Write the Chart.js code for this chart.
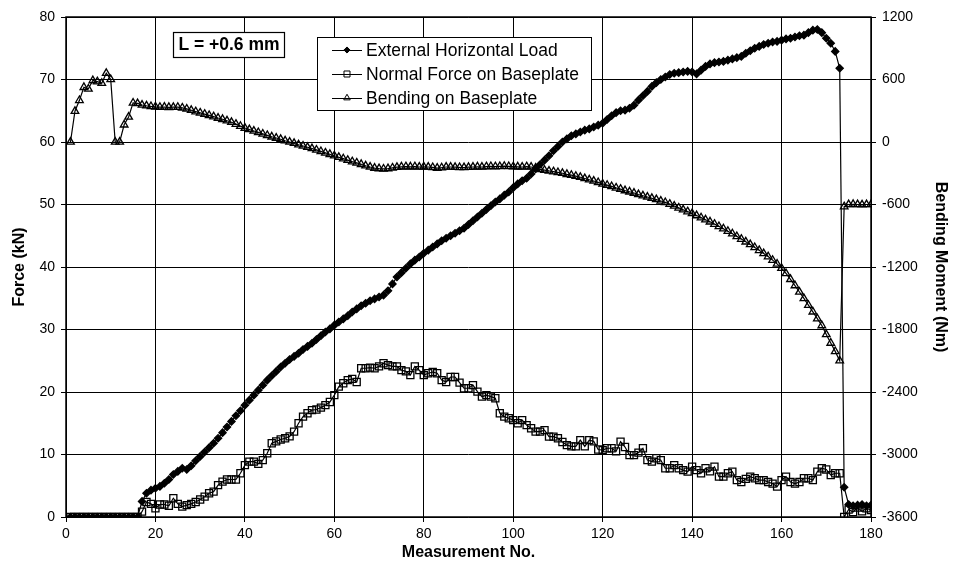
<!DOCTYPE html>
<html>
<head>
<meta charset="utf-8">
<script src="https://cdn.jsdelivr.net/npm/chart.js@4.4.0/dist/chart.umd.min.js"></script>
<style>
html,body{margin:0;background:#fff}
#wrap{width:954px;height:578px;position:relative}
</style>
</head>
<body>
<div id="wrap"><canvas id="c" width="954" height="578"></canvas></div>
<script>
// measurement numbers 1..180
const measNo = Array.from({length:180},(_,i)=>i+1);

// External Horizontal Load (kN)
const extLoad = [
  0,0,0,0,0,0,0,0,0,0,0,0,0,0,0,0,
  2.5,3.8,4.3,4.6,4.9,5.4,6.0,6.8,7.3,7.8,7.6,8.2,9.0,9.7,
  10.4,11.1,11.8,12.6,13.5,14.4,15.3,16.2,17.0,17.9,
  18.7,19.5,20.3,21.1,21.9,22.6,23.3,24.0,24.6,25.2,
  25.7,26.2,26.8,27.3,27.8,28.4,29.0,29.6,30.1,30.7,
  31.2,31.7,32.2,32.8,33.3,33.8,34.2,34.6,34.9,35.2,
  35.5,36.2,37.3,38.4,39.1,39.8,40.5,41.1,41.6,42.2,
  42.7,43.2,43.7,44.2,44.6,45.0,45.4,45.8,46.2,46.8,
  47.4,48.0,48.6,49.2,49.8,50.4,50.9,51.5,52.0,52.7,
  53.3,53.8,54.2,54.9,55.7,56.4,57.1,57.8,58.6,59.3,
  60.0,60.5,61.0,61.3,61.6,61.9,62.1,62.4,62.7,63.0,
  63.6,64.2,64.7,65.0,65.1,65.4,65.9,66.7,67.4,68.1,
  68.9,69.5,70.0,70.4,70.8,71.0,71.1,71.2,71.3,71.2,
  70.9,71.5,72.1,72.5,72.7,72.8,72.9,73.1,73.3,73.5,
  73.7,74.2,74.6,75.0,75.3,75.6,75.8,76.0,76.1,76.3,
  76.5,76.6,76.8,77.0,77.1,77.5,77.9,78.0,77.5,76.6,
  75.8,74.5,71.8,4.75,2.0,1.8,1.9,2.0,1.8,1.9
];

// Normal Force on Baseplate (kN)
const normalForce = [
  0,0,0,0,0,0,0,0,0,0,0,0,0,0,0,0,
  0.85,2.4,2.1,1.4,2.0,2.0,1.8,3.0,2.1,1.65,1.9,2.1,2.4,2.8,
  3.25,3.8,4.05,5.1,5.65,6.0,6.0,6.0,7.0,8.3,
  8.85,8.85,8.5,9.1,10.2,11.8,12.1,12.4,12.6,12.9,
  13.65,15.0,16.05,16.6,17.1,17.2,17.5,17.9,18.4,19.5,
  20.85,21.4,21.9,22.1,21.6,23.8,23.8,23.9,23.8,24.1,
  24.6,24.3,24.1,24.1,23.5,23.3,22.7,24.1,23.5,22.7,
  23.0,23.2,23.0,21.9,21.6,22.4,22.4,21.5,20.6,20.6,
  21.1,20.05,19.25,19.5,19.25,19.0,16.6,16.05,15.8,15.5,
  15.0,15.5,14.7,14.2,13.65,13.65,13.9,12.85,12.85,12.6,
  12.0,11.5,11.3,11.3,12.3,11.3,12.3,12.1,10.8,10.7,
  11.0,11.0,10.5,12.05,11.2,9.9,9.9,10.3,11.0,9.1,
  8.85,9.4,9.1,7.8,7.8,8.3,7.8,7.5,7.25,8.05,
  7.5,7.0,7.8,7.3,8.05,6.45,6.45,7.0,7.25,5.9,
  5.6,6.1,6.45,6.2,5.9,5.9,5.6,5.35,4.85,5.9,
  6.45,5.6,5.35,5.6,6.2,6.2,5.9,7.25,7.8,7.6,
  6.7,7.0,7.0,0.0,1.2,0.8,1.5,0.9,1.4,1.1
];

// Bending on Baseplate (Nm)
const bending = [
  0,295,400,525,510,590,580,565,660,600,
  0,0,165,240,375,370,355,348,342,338,
  335,336,333,334,335,328,318,305,292,280,
  268,256,244,230,218,204,190,172,152,134,
  120,106,92,78,64,50,38,26,12,0,
  -12,-26,-38,-50,-62,-76,-90,-104,-118,-132,
  -146,-160,-174,-188,-200,-214,-228,-240,-250,-255,
  -258,-255,-248,-242,-238,-236,-238,-236,-240,-238,
  -240,-244,-250,-246,-240,-240,-242,-244,-245,-242,
  -240,-238,-240,-236,-234,-236,-234,-232,-234,-236,
  -238,-240,-236,-240,-250,-262,-270,-278,-284,-292,
  -300,-310,-318,-328,-338,-350,-362,-374,-388,-402,
  -414,-426,-440,-452,-466,-478,-490,-504,-516,-528,
  -540,-552,-566,-580,-596,-614,-632,-650,-668,-686,
  -706,-726,-746,-766,-788,-810,-832,-856,-880,-906,
  -932,-958,-984,-1012,-1040,-1070,-1100,-1134,-1170,-1212,
  -1262,-1318,-1378,-1440,-1502,-1566,-1630,-1696,-1762,-1848,
  -1930,-2010,-2100,-620,-600,-598,-600,-602,-600,-600
];

const seriesNames = ['External Horizontal Load','Normal Force on Baseplate','Bending on Baseplate'];
const noteText = 'L = +0.6 mm';

const FONT = "'Liberation Sans', Arial, Helvetica, sans-serif";
Chart.defaults.font.family = FONT;
Chart.defaults.color = '#000';

const pts = arr => arr.map((v,i)=>({x:measNo[i], y:v}));

const styles = [
  {pointStyle:'rectRot', pointRadius:3.6, fill:'#000'},
  {pointStyle:'rect', pointRadius:5, fill:'rgba(0,0,0,0)'},
  {pointStyle:'triangle', pointRadius:4.4, fill:'rgba(0,0,0,0)'}
];

function ds(i, data, axis){
  const s = styles[i];
  return {
    label: seriesNames[i], data: pts(data), yAxisID: axis,
    borderColor:'#000', borderWidth:1.2, tension:0,
    pointStyle:s.pointStyle, pointRadius:s.pointRadius,
    pointBackgroundColor:s.fill, pointBorderColor:'#000', pointBorderWidth:1.3
  };
}

// frame, legend box and note box
const decor = {
  id:'decor',
  beforeDatasetsDraw(chart){
    const {ctx, chartArea:a} = chart;
    ctx.save();
    ctx.strokeStyle='#000'; ctx.lineWidth=1.5;
    ctx.strokeRect(a.left, a.top, a.right-a.left, a.bottom-a.top);
    ctx.restore();
  },
  afterDraw(chart){
    const ctx = chart.ctx;
    ctx.save();
    // note box
    ctx.fillStyle='#fff'; ctx.fillRect(173,32,111,25);
    ctx.strokeStyle='#000'; ctx.lineWidth=1.2; ctx.strokeRect(173.5,32.5,111,25);
    ctx.fillStyle='#000'; ctx.font="bold 17.5px "+FONT;
    ctx.textAlign='center'; ctx.textBaseline='middle';
    ctx.fillText(noteText, 229, 45);
    // legend
    ctx.fillStyle='#fff'; ctx.fillRect(317,37,274,73);
    ctx.lineWidth=1; ctx.strokeRect(317.5,37.5,274,73);
    ctx.font="17.5px "+FONT; ctx.textAlign='left';
    seriesNames.forEach((name,i)=>{
      const y = 50 + i*24, s = styles[i];
      ctx.strokeStyle='#000'; ctx.lineWidth=1;
      ctx.beginPath(); ctx.moveTo(332,y+0.5); ctx.lineTo(362,y+0.5); ctx.stroke();
      ctx.fillStyle = s.fill;
      Chart.helpers.drawPoint(ctx,{pointStyle:s.pointStyle, radius:s.pointRadius*0.85, borderWidth:1, rotation:0},347,y);
      ctx.fillStyle='#000';
      ctx.fillText(name, 366, y+1);
    });
    ctx.restore();
  }
};

new Chart(document.getElementById('c'), {
  type:'line',
  data:{datasets:[ds(0,extLoad,'y'), ds(1,normalForce,'y'), ds(2,bending,'y1')]},
  options:{
    responsive:false, animation:false, devicePixelRatio:1,
    layout:{padding:{top:17,left:0,right:0,bottom:0}},
    plugins:{legend:{display:false}, tooltip:{enabled:false}},
    scales:{
      x:{type:'linear', position:'bottom', min:0, max:180,
        ticks:{stepSize:20, font:{size:14}, padding:4, maxRotation:0},
        grid:{color:'#000', lineWidth:1, tickLength:5},
        border:{display:false},
        title:{display:true, text:'Measurement No.', font:{size:16, weight:'bold'}, padding:{top:0, bottom:16}},
        afterFit:s=>{s.height=61;}
      },
      y:{position:'left', min:0, max:80,
        ticks:{stepSize:10, font:{size:14}, padding:6},
        grid:{color:'#000', lineWidth:1, tickLength:5},
        border:{display:false},
        title:{display:true, text:'Force (kN)', font:{size:16, weight:'bold'}, padding:{top:10}},
        afterFit:s=>{s.width=66;}
      },
      y1:{position:'right', min:-3600, max:1200,
        ticks:{stepSize:600, font:{size:14}, padding:6, callback:v=>String(v)},
        grid:{drawOnChartArea:false, color:'#000', tickLength:5},
        border:{display:false},
        title:{display:true, text:'Bending Moment (Nm)', font:{size:16, weight:'bold'}, padding:{top:4}},
        afterFit:s=>{s.width=83;}
      }
    }
  },
  plugins:[decor]
});
</script>
</body>
</html>
